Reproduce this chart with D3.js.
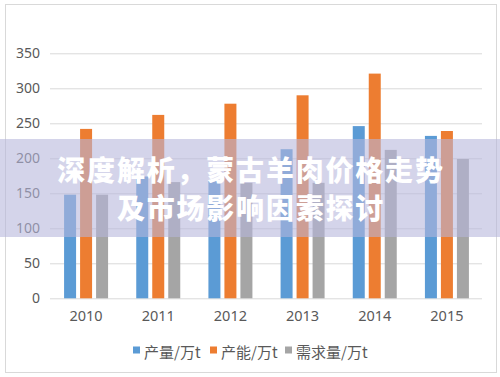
<!DOCTYPE html>
<html><head><meta charset="utf-8">
<script src="https://cdn.jsdelivr.net/npm/d3@7/dist/d3.min.js"></script>
<style>
html,body{margin:0;padding:0;background:#fff;}
svg{display:block;}
</style></head>
<body>
<svg id="c" width="500" height="377"></svg>
<script>
const categories = ["2010","2011","2012","2013","2014","2015"];
const seriesNames = ["产量/万t","产能/万t","需求量/万t"];
const output = [148, 174, 168, 213, 246, 232];
const capacity = [242, 262, 278, 290, 321, 239];
const demand = [148, 166, 165, 165, 212, 199];
const yTicks = [0, 50, 100, 150, 200, 250, 300, 350];
const colors = ["#5B9BD5", "#ED7D31", "#A5A5A5"];
const titleLines = ["深度解析，蒙古羊肉价格走势", "及市场影响因素探讨"];

const values = [output, capacity, demand];
const svg = d3.select("#c");
const font = "'Noto Sans','Noto Sans CJK SC',sans-serif";

// chart border
svg.append("rect").attr("x",5.5).attr("y",4.5).attr("width",491).attr("height",368)
  .attr("fill","#fff").attr("stroke","#d9d9d9").attr("stroke-width",1);

const x0 = d3.scaleBand().domain(categories).range([50,483]).padding(0);
const x1 = d3.scaleBand().domain(seriesNames).range([-22,22]).paddingInner(0.25).paddingOuter(0);
const y = d3.scaleLinear().domain([0,350]).range([298.3,53.3]);

// gridlines
const yAxis = d3.axisLeft(y).tickValues(yTicks).tickSize(-432).tickPadding(10);
const gy = svg.append("g").attr("transform","translate(50,0)").call(yAxis);
gy.select(".domain").remove();
gy.selectAll(".tick line").attr("stroke","#d9d9d9").attr("stroke-width",1);
gy.selectAll(".tick text").attr("fill","#595959").style("font-family",font).style("font-size","14px");

// bars
seriesNames.forEach((s,si)=>{
  svg.append("g").selectAll("rect").data(categories).join("rect")
    .attr("x", c => x0(c) + x0.bandwidth()/2 + x1(s))
    .attr("width", x1.bandwidth())
    .attr("y", (c,i) => y(values[si][i]))
    .attr("height", (c,i) => y(0) - y(values[si][i]))
    .attr("fill", colors[si]);
});

// x axis labels
const xAxis = d3.axisBottom(x0).tickSize(0).tickPadding(12);
const gx = svg.append("g").attr("transform","translate(0,298.3)").call(xAxis);
gx.select(".domain").remove();
gx.selectAll(".tick text").attr("fill","#595959").style("font-family",font).style("font-size","14.5px");

// legend
const lg = svg.append("g");
const legendX = [133, 210, 285];
seriesNames.forEach((s,i)=>{
  lg.append("rect").attr("x",legendX[i]).attr("y",346.5).attr("width",7).attr("height",7).attr("fill",colors[i]);
  lg.append("text").attr("x",legendX[i]+11).attr("y",357.5).text(s)
    .attr("fill","#595959").style("font-family","'Noto Sans CJK SC',sans-serif").style("font-size","15px");
});

// banner overlay
svg.append("rect").attr("x",0).attr("y",139).attr("width",500).attr("height",98)
  .attr("fill","rgb(182,182,219)").attr("fill-opacity",0.59);

const tg = svg.append("g");
const baselines = [181, 219];
titleLines.forEach((t,i)=>{
  tg.append("text").attr("x",251).attr("y",baselines[i]).attr("text-anchor","middle")
    .text(t).attr("fill","#ffffff")
    .style("font-family","'Noto Sans CJK SC',sans-serif").style("font-weight","900")
    .style("font-size","28px").style("letter-spacing","1.8px");
});
</script>
</body></html>
